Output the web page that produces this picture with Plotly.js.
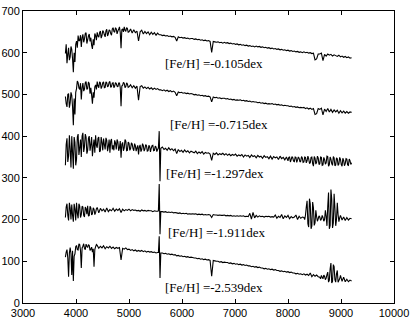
<!DOCTYPE html>
<html>
<head>
<meta charset="utf-8">
<script src="https://cdn.plot.ly/plotly-3.0.1.min.js"></script>
<style>html,body{margin:0;padding:0;background:#fff;}#chart{width:415px;height:318px;}</style>
</head>
<body>
<div id="chart"></div>
<script>
// Main wavelength sampling grid (Angstrom): 3800..9200 every 30
const waveStart = 3800, waveStep = 30, waveCount = 181;
// Extra (half-step) samples in the noisy stretches start at the given wavelengths, same 30 A step
const labels = ["[Fe/H] =-0.105dex", "[Fe/H] =-0.715dex", "[Fe/H] =-1.297dex", "[Fe/H] =-1.911dex", "[Fe/H] =-2.539dex"];
const labelX = [5641, 5736, 5660, 5698, 5641];
const labelY = [575, 429, 311, 168, 36];
const xTicks = [3000,4000,5000,6000,7000,8000,9000,10000];
const yTicks = [0,100,200,300,400,500,600,700];

const flux1 = [
598,575,612,590,608,553,578,628,641,630,
614,644,633,648,631,645,636,609,618,641,
649,637,652,641,650,638,656,645,653,642,
660,649,657,652,662,611,657,662,651,658,
650,657,647,655,648,652,628,650,654,645,
651,646,650,643,649,644,648,642,647,643,
643,641,642,640,641,639,640,638,639,637,
628,638,636,637,635,636,634,635,633,634,
634,632,633,631,632,630,631,629,630,628,
629,627,601,627,626,625,626,624,625,623,
625,623,624,622,623,621,622,620,621,619,
620,618,619,617,618,616,617,615,616,614,
616,614,615,613,614,612,613,611,612,610,
611,609,610,608,609,607,608,606,607,605,
606,604,605,603,604,602,603,601,602,600,
602,600,601,599,600,598,599,583,585,597,
597,599,581,596,592,597,594,596,592,595,
593,591,594,590,592,589,591,588,590,587,588];
const mid1Start = 3815;
const mid1 = [
620,596,582,615,585,600,620,612,628,642,
636,625,646,622,640,627,618,632,646,630,
640,648,635,653,643,652,640,655,646,657,
651,660,645,656,648,655,650,654,660,649];

const flux2 = [
495,470,502,480,498,426,452,514,528,512,
488,527,513,531,514,526,516,478,492,523,
531,516,528,519,530,517,528,520,531,519,
528,520,526,518,527,472,522,527,519,525,
518,523,516,521,515,520,486,519,521,515,
518,514,517,513,516,512,515,512,514,511,
511,509,511,508,510,507,509,506,508,505,
497,506,504,505,503,504,502,503,501,502,
501,499,500,498,499,497,498,496,497,495,
496,494,482,494,492,493,491,492,490,491,
491,489,490,488,489,487,488,486,487,486,
487,485,486,484,485,483,484,482,483,482,
482,480,481,479,480,478,479,477,478,477,
478,476,477,475,476,474,475,473,474,473,
473,471,472,470,471,469,470,468,469,468,
469,466,468,465,467,464,466,452,454,466,
464,467,451,465,459,466,458,464,457,463,
458,462,455,461,456,460,455,459,455,458,457];
const mid2Start = 3815;
const mid2 = [
478,500,468,505,470,490,505,532,515,527,
516,508,528,512,530,502,498,505,518,512,
520,530,514,528,516,530,518,529,517,527,
516,528,520,527,516,520,529,516,528,517];

const flux3 = [
330,395,352,368,400,322,385,345,405,372,
350,408,375,398,366,400,380,352,392,402,
372,398,365,385,394,368,390,375,360,393,
378,390,368,386,372,348,385,372,388,366,
383,370,381,365,377,372,356,379,368,378,
369,377,365,375,371,378,366,374,368,412,
371,374,368,371,366,372,367,370,365,369,
358,368,363,366,361,367,362,365,360,364,
362,360,364,358,362,359,363,357,361,359,
360,357,342,359,356,360,355,358,356,359,
355,358,354,357,353,356,354,357,352,355,
353,356,350,355,352,354,349,355,351,353,
348,354,350,352,347,353,349,351,346,352,
345,351,348,350,344,352,346,349,343,350,
341,350,344,348,339,349,343,347,340,348,
338,349,341,346,336,350,328,347,337,348,
334,349,331,344,336,351,332,345,330,348,
331,346,333,344,328,342,334,345,330,341,336];
const mid3aStart = 3815;
const mid3a = [
380,338,402,325,360,398,330,398,355,392,
400,362,405,358,395,365,398,375,360,378,
395,362,398,366,380,396,364,392,388,368,
366,384,392,365,388,380,365,392,365,386,
366,384,370,382,364,378,374,363,382,364,
380,364,378,362,377,365,376,363,372,292];
const mid3bStart = 8015;
const mid3b = [
349,338,351,340,350,337,350,338,351,337,
350,336,352,335,349,334,351,333,352,332,
350,330,349,333,352,328,350,334,351,329,
348,330,349,332,347,329,346,331,345,332];

const flux4 = [
205,238,198,228,236,195,225,240,203,232,
212,230,206,226,233,210,228,214,225,217,
229,216,227,221,225,218,228,219,224,221,
227,220,225,222,226,217,225,221,224,222,
225,221,224,222,223,221,222,220,223,221,
222,220,222,221,221,219,221,220,220,285,
219,219,218,219,217,218,217,218,216,217,
216,215,216,214,215,214,215,213,214,213,
214,213,214,212,213,212,213,211,212,211,
212,211,205,212,211,211,210,211,210,210,
211,209,210,209,210,208,209,208,209,208,
209,208,209,207,208,207,215,201,217,204,
210,206,209,207,208,206,208,207,208,206,
207,206,211,203,208,205,212,202,209,205,
210,202,207,204,206,211,200,208,203,206,
205,211,245,182,238,185,228,192,207,202,
206,201,205,200,208,232,178,272,180,262,
185,240,195,210,199,206,198,205,199,203,202];
const mid4aStart = 3815;
const mid4a = [
230,210,240,200,210,238,198,215,238,205,
232,210,230,213,208,232,211,228,212,226];
const mid4bStart = 5555;
const mid4b = [221,165];
const mid4cStart = 8315;
const mid4c = [
200,230,190,250,178,242,186,222,196,209,
198,210,196,222,185,265,186,250,192,228,
200,212,204];

const flux5 = [
110,128,63,133,67,53,118,138,127,140,
84,136,131,141,133,138,129,122,87,135,
138,131,136,132,137,130,135,132,136,131,
134,130,133,131,133,103,131,129,132,128,
129,126,128,125,127,124,126,124,126,123,
125,122,124,122,123,121,122,120,121,160,
120,120,118,119,117,118,116,117,115,116,
113,114,112,113,111,112,110,111,109,110,
109,108,108,106,107,105,106,104,105,103,
104,102,64,102,101,100,100,98,99,97,
98,97,97,95,96,94,95,93,94,92,
93,91,92,90,91,89,89,87,88,86,
87,85,86,84,84,82,83,81,82,80,
81,79,80,78,78,76,77,75,76,74,
75,73,74,72,72,70,71,69,70,68,
70,67,69,66,72,63,68,64,67,63,
62,66,58,64,60,74,55,96,52,87,
50,78,54,66,52,62,51,57,51,55,53];
const mid5aStart = 3815;
const mid5a = [
122,108,120,118,125,112,135,128,142,126,
132,142,128,136,140,126,134,130,128,140];
const mid5bStart = 5555;
const mid5b = [121,60];
const mid5cStart = 8615;
const mid5c = [
58,62,67,56,68,50,82,48,92,56,
70,50,58];

function buildSpectrum(base, extras) {
  const pts = base.map((f, i) => [waveStart + i * waveStep, f]);
  extras.forEach(([start, vals]) => vals.forEach((f, i) => pts.push([start + i * waveStep, f])));
  pts.sort((a, b) => a[0] - b[0]);
  return {x: pts.map(p => p[0]), y: pts.map(p => p[1])};
}

const spectra = [
  buildSpectrum(flux1, [[mid1Start, mid1]]),
  buildSpectrum(flux2, [[mid2Start, mid2]]),
  buildSpectrum(flux3, [[mid3aStart, mid3a], [mid3bStart, mid3b]]),
  buildSpectrum(flux4, [[mid4aStart, mid4a], [mid4bStart, mid4b], [mid4cStart, mid4c]]),
  buildSpectrum(flux5, [[mid5aStart, mid5a], [mid5bStart, mid5b], [mid5cStart, mid5c]])
];

const traces = spectra.map(s => ({
  type: 'scatter', mode: 'lines', x: s.x, y: s.y,
  line: {color: '#000', width: 1.1, simplify: false}, hoverinfo: 'skip'
}));

const annotations = labels.map((t, i) => ({
  text: t, x: labelX[i], y: labelY[i], xref: 'x', yref: 'y',
  xanchor: 'left', yanchor: 'middle', showarrow: false,
  font: {family: 'Liberation Serif, Times New Roman, serif', size: 13, color: '#000'}
}));

const axisCommon = {
  showline: true, linecolor: '#000', linewidth: 1, mirror: 'ticks',
  ticks: 'inside', ticklen: 4, tickcolor: '#000', tickwidth: 1,
  showgrid: false, zeroline: false, tickformat: 'd',
  tickfont: {family: 'Liberation Sans, Arial, sans-serif', size: 11, color: '#000'}
};

const layout = {
  width: 415, height: 318,
  margin: {l: 23, r: 21, t: 11, b: 15},
  paper_bgcolor: '#fff', plot_bgcolor: '#fff',
  showlegend: false,
  xaxis: Object.assign({}, axisCommon, {range: [3000, 10000], tickvals: xTicks, ticktext: xTicks.map(String)}),
  yaxis: Object.assign({}, axisCommon, {range: [0, 700], tickvals: yTicks, ticktext: yTicks.map(String)}),
  annotations: annotations
};

Plotly.newPlot('chart', traces, layout, {displayModeBar: false, staticPlot: true});
</script>
</body>
</html>
